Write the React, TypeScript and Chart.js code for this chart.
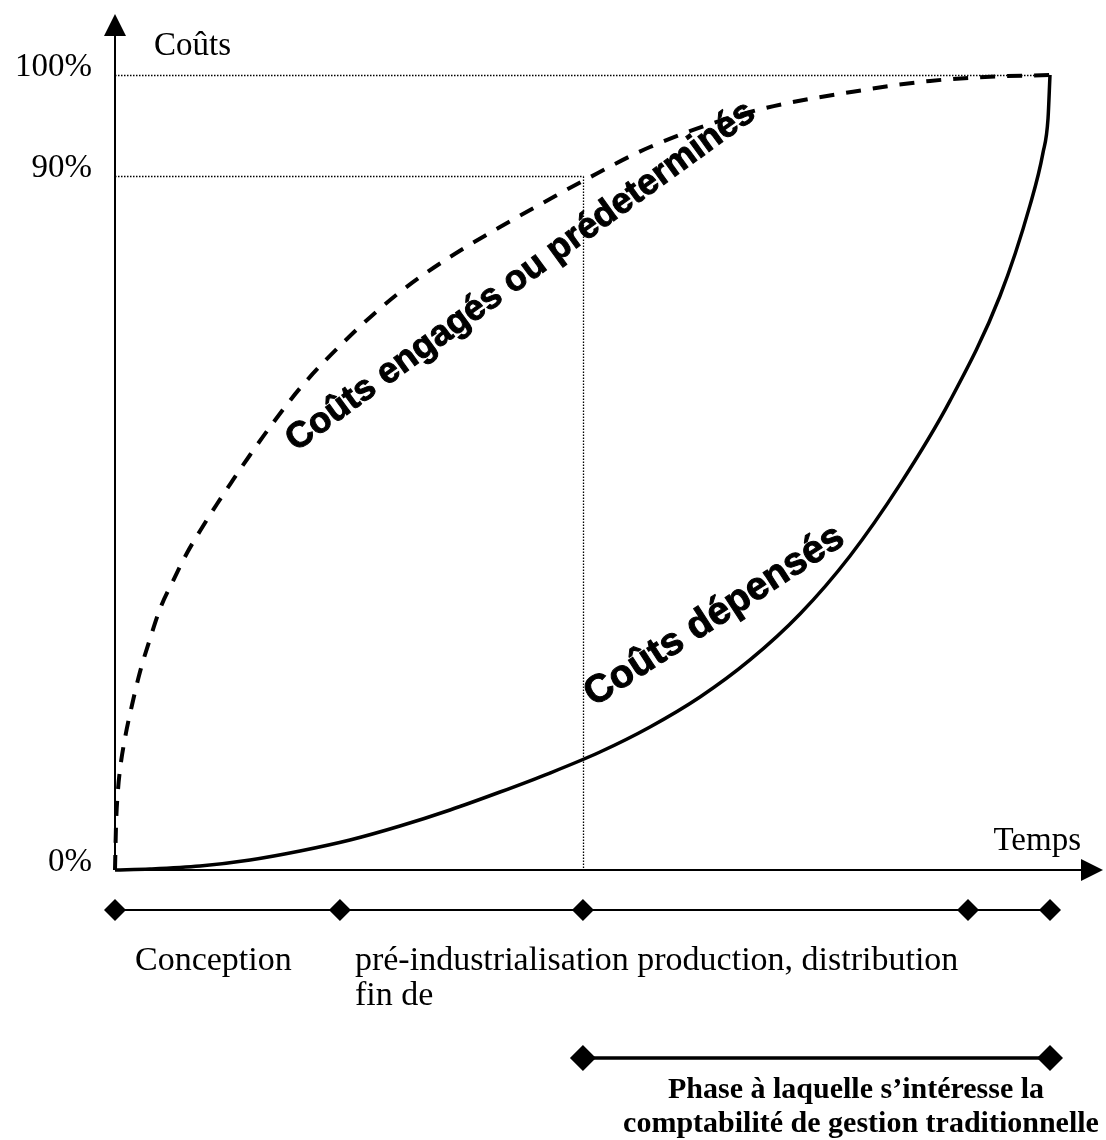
import React, { useEffect, useRef } from 'react';
import { Chart, registerables } from 'chart.js';

Chart.register(...registerables);

const SERIF = '"Liberation Serif", "Times New Roman", serif';
const SANS = '"Liberation Sans", Arial, sans-serif';

// Coûts engagés ou prédeterminés (dashed curve) — time %, cost %
const committedX = [0, 0.11, 0.32, 0.53, 1.07, 1.82, 2.67, 3.74, 4.81, 6.2, 7.7, 9.09, 10.91, 12.62, 14.44, 16.58, 19.79, 25.13, 30.48, 35.83, 41.18, 46.52, 50.05, 57.22, 67.91, 80.75, 87.17, 93.05, 100];
const committedY = [0, 5.66, 10.06, 12.58, 16.6, 20.75, 24.91, 29.06, 32.83, 36.35, 39.87, 42.64, 46.04, 49.06, 52.2, 55.72, 60.6, 67.17, 72.7, 77.11, 80.88, 84.4, 86.67, 90.94, 95.35, 98.24, 99.25, 99.75, 100];

// Coûts dépensés (solid curve)
const spentX = [0, 3.74, 9.09, 14.44, 19.79, 25.13, 30.48, 35.83, 41.18, 46.52, 51.87, 57.22, 62.57, 67.91, 73.26, 78.61, 83.96, 89.3, 94.65, 97.86, 99.25, 99.79, 100];
const spentY = [0, 0.13, 0.5, 1.26, 2.39, 3.77, 5.53, 7.55, 9.81, 12.2, 14.84, 17.99, 21.76, 26.42, 32.2, 39.5, 48.5, 59.0, 72.2, 83.6, 90.2, 94.5, 100];

const yTickValues = [0, 87.3, 100];
const yTickLabels = ['0%', '90%', '100%'];
const axisTitles = ['Coûts', 'Temps'];
const curveLabels = ['Coûts engagés ou prédeterminés', 'Coûts dépensés'];

const phaseBounds = [0, 24.06, 50.05, 91.23, 100];
const phaseTexts = ['Conception', 'pré-industrialisation production, distribution', 'fin de'];
const focusRange = [50.05, 100];
const focusTexts = ['Phase à laquelle s’intéresse la', 'comptabilité de gestion traditionnelle'];

const X_MAX = 105.67;
const Y_MAX = 107.67;

function diamond(ctx: CanvasRenderingContext2D, cx: number, cy: number, r: number) {
  ctx.beginPath();
  ctx.moveTo(cx, cy - r);
  ctx.lineTo(cx + r, cy);
  ctx.lineTo(cx, cy + r);
  ctx.lineTo(cx - r, cy);
  ctx.closePath();
  ctx.fill();
}

const diagramPlugin = {
  id: 'diagram',
  beforeDatasetsDraw(chart: any) {
    const { ctx, scales } = chart;
    const x = scales.x, y = scales.y;
    const x0 = x.getPixelForValue(0);
    const y100 = Math.round(y.getPixelForValue(yTickValues[2])) + 0.5;
    const y90 = Math.round(y.getPixelForValue(yTickValues[1])) + 0.5;
    const xv = Math.round(x.getPixelForValue(phaseBounds[2])) + 0.5;
    ctx.save();
    ctx.strokeStyle = '#000';
    ctx.lineWidth = 1.3;
    ctx.setLineDash([1.5, 1.5]);
    ctx.beginPath();
    ctx.moveTo(x0, y100);
    ctx.lineTo(x.getPixelForValue(100), y100);
    ctx.moveTo(x0, y90);
    ctx.lineTo(xv, y90);
    ctx.moveTo(xv, y90);
    ctx.lineTo(xv, y.getPixelForValue(0));
    ctx.stroke();
    ctx.restore();
  },
  afterDraw(chart: any) {
    const { ctx, scales, chartArea } = chart;
    const x = scales.x, y = scales.y;
    const x0 = x.getPixelForValue(0);
    const y0 = y.getPixelForValue(0);
    ctx.save();
    ctx.fillStyle = '#000';
    ctx.strokeStyle = '#000';
    ctx.setLineDash([]);

    // axes
    ctx.lineWidth = 2;
    ctx.beginPath();
    ctx.moveTo(x0, y0);
    ctx.lineTo(x0, chartArea.top + 18);
    ctx.moveTo(x0, y0);
    ctx.lineTo(chartArea.right - 18, y0);
    ctx.stroke();
    // arrow heads
    ctx.beginPath();
    ctx.moveTo(x0, chartArea.top);
    ctx.lineTo(x0 + 11, chartArea.top + 22);
    ctx.lineTo(x0 - 11, chartArea.top + 22);
    ctx.closePath();
    ctx.fill();
    ctx.beginPath();
    ctx.moveTo(chartArea.right, y0);
    ctx.lineTo(chartArea.right - 22, y0 - 11);
    ctx.lineTo(chartArea.right - 22, y0 + 11);
    ctx.closePath();
    ctx.fill();

    // tick labels
    ctx.font = `33px ${SERIF}`;
    ctx.textAlign = 'right';
    ctx.textBaseline = 'alphabetic';
    yTickValues.forEach((v, i) => {
      ctx.fillText(yTickLabels[i], 92, y.getPixelForValue(v) + 1);
    });
    // axis titles
    ctx.textAlign = 'left';
    ctx.fillText(axisTitles[0], 154, 55);
    ctx.textAlign = 'right';
    ctx.fillText(axisTitles[1], 1081, 850);

    // curve labels
    ctx.textAlign = 'left';
    ctx.lineWidth = 1;
    ctx.save();
    ctx.translate(296, 452);
    ctx.rotate((-36 * Math.PI) / 180);
    ctx.font = `bold 36px ${SANS}`;
    ctx.fillText(curveLabels[0], 0, 0);
    ctx.strokeText(curveLabels[0], 0, 0);
    ctx.restore();
    ctx.save();
    ctx.translate(594, 707);
    ctx.rotate((-33 * Math.PI) / 180);
    ctx.font = `bold 39px ${SANS}`;
    ctx.fillText(curveLabels[1], 0, 0);
    ctx.strokeText(curveLabels[1], 0, 0);
    ctx.restore();

    // phase row
    const rowY = y0 + 40;
    ctx.lineWidth = 2;
    ctx.beginPath();
    ctx.moveTo(x.getPixelForValue(phaseBounds[0]), rowY);
    ctx.lineTo(x.getPixelForValue(phaseBounds[phaseBounds.length - 1]), rowY);
    ctx.stroke();
    phaseBounds.forEach((b) => diamond(ctx, x.getPixelForValue(b), rowY, 11));

    ctx.font = `34px ${SERIF}`;
    ctx.textAlign = 'left';
    ctx.fillText(phaseTexts[0], x.getPixelForValue(phaseBounds[0]) + 20, 970);
    ctx.fillText(phaseTexts[1], x.getPixelForValue(phaseBounds[1]) + 15, 970);
    ctx.fillText(phaseTexts[2], x.getPixelForValue(phaseBounds[1]) + 15, 1005);

    // focus phase
    const focusY = 1058;
    ctx.lineWidth = 3.5;
    ctx.beginPath();
    ctx.moveTo(x.getPixelForValue(focusRange[0]), focusY);
    ctx.lineTo(x.getPixelForValue(focusRange[1]), focusY);
    ctx.stroke();
    focusRange.forEach((b) => diamond(ctx, x.getPixelForValue(b), focusY, 13));

    ctx.font = `bold 30px ${SERIF}`;
    ctx.textAlign = 'center';
    ctx.fillText(focusTexts[0], 856, 1098);
    ctx.fillText(focusTexts[1], 861, 1132);

    ctx.restore();
  },
};

export default function App() {
  const ref = useRef<HTMLCanvasElement | null>(null);
  useEffect(() => {
    if (!ref.current) return;
    const chart = new Chart(ref.current, {
      type: 'line',
      data: {
        datasets: [
          {
            label: curveLabels[0],
            data: committedX.map((v, i) => ({ x: v, y: committedY[i] })),
            borderColor: '#000',
            borderWidth: 4,
            borderDash: [15, 12],
            pointRadius: 0,
            fill: false,
            cubicInterpolationMode: 'monotone',
            clip: false as any,
          },
          {
            label: curveLabels[1],
            data: spentX.map((v, i) => ({ x: v, y: spentY[i] })),
            borderColor: '#000',
            borderWidth: 3.5,
            pointRadius: 0,
            fill: false,
            cubicInterpolationMode: 'monotone',
            clip: false as any,
          },
        ],
      },
      options: {
        animation: false,
        responsive: false,
        layout: { padding: { left: 115, right: 3, top: 14, bottom: 270 } },
        scales: {
          x: { type: 'linear', min: 0, max: X_MAX, display: false },
          y: { type: 'linear', min: 0, max: Y_MAX, display: false },
        },
        plugins: { legend: { display: false }, tooltip: { enabled: false } },
        events: [],
      },
      plugins: [diagramPlugin],
    });
    return () => chart.destroy();
  }, []);
  return (
    <div style={{ position: 'absolute', left: 0, top: 0, width: 1106, height: 1140, background: '#fff' }}>
      <canvas ref={ref} width={1106} height={1140} style={{ display: 'block' }} />
    </div>
  );
}
